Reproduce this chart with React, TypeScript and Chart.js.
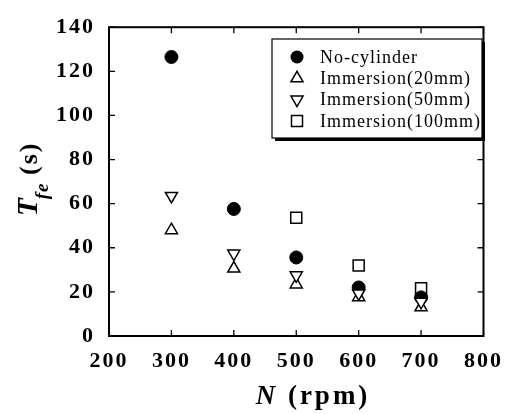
import React, { useEffect, useRef } from "react";
import { Chart, registerables } from "chart.js";

Chart.register(...registerables);

// ---- data ----
const rpmAll = [300, 400, 500, 600, 700];
const noCylinder = [126.5, 57.6, 35.6, 22, 17.5];
const immersion20 = [48, 30.6, 23.4, 17.6, 13];
const immersion50 = [63.5, 37.4, 27.5, 19.3, 15.5];
const rpm100 = [500, 600, 700];
const immersion100 = [53.6, 32, 21.6];

const seriesLabels = ["No-cylinder", "Immersion(20mm)", "Immersion(50mm)", "Immersion(100mm)"];
const xTickValues = [200, 300, 400, 500, 600, 700, 800];
const yTickValues = [0, 20, 40, 60, 80, 100, 120, 140];
const xTitleMain = "N";
const xTitleUnit = " (rpm)";
const yTitleMain = "T";
const yTitleSub = "fe";
const yTitleUnit = " (s)";

const SERIF = "'Liberation Serif', 'Times New Roman', serif";

function pts(xs: number[], ys: number[]) {
  return xs.map((x, i) => ({ x, y: ys[i] }));
}

function drawMarker(ctx: CanvasRenderingContext2D, kind: string, x: number, y: number) {
  ctx.save();
  ctx.strokeStyle = "#000";
  ctx.fillStyle = "#000";
  ctx.lineWidth = 1.5;
  ctx.beginPath();
  if (kind === "circle") {
    ctx.arc(x, y, 6.5, 0, Math.PI * 2);
    ctx.fill();
  } else if (kind === "up" || kind === "down") {
    const r = 7;
    const base = kind === "down" ? Math.PI : 0;
    for (let k = 0; k < 3; k++) {
      const a = (k * 2 * Math.PI) / 3 + base;
      const px = x + Math.sin(a) * r;
      const py = y - Math.cos(a) * r;
      if (k === 0) ctx.moveTo(px, py);
      else ctx.lineTo(px, py);
    }
    ctx.closePath();
    ctx.stroke();
  } else {
    ctx.rect(x - 5.5, y - 5.5, 11, 11);
    ctx.stroke();
  }
  ctx.restore();
}

const framePlugin = {
  id: "frameAndTitles",
  beforeDraw(chart: any) {
    (chart.ctx as any).letterSpacing = "2px";
  },
  afterDraw(chart: any) {
    const ctx: CanvasRenderingContext2D = chart.ctx;
    const { left, right, top, bottom } = chart.chartArea;
    const xs = chart.scales.x;
    const ys = chart.scales.y;
    (ctx as any).letterSpacing = "0px";
    ctx.save();
    // frame
    ctx.strokeStyle = "#000";
    ctx.lineWidth = 2;
    ctx.strokeRect(left, top, right - left, bottom - top);
    // inward ticks on all four sides
    const tl = 6;
    ctx.lineWidth = 1.3;
    ctx.beginPath();
    xTickValues.forEach((v) => {
      const px = xs.getPixelForValue(v);
      ctx.moveTo(px, bottom);
      ctx.lineTo(px, bottom - tl);
      ctx.moveTo(px, top);
      ctx.lineTo(px, top + tl);
    });
    yTickValues.forEach((v) => {
      const py = ys.getPixelForValue(v);
      ctx.moveTo(left, py);
      ctx.lineTo(left + tl, py);
      ctx.moveTo(right, py);
      ctx.lineTo(right - tl, py);
    });
    ctx.stroke();

    // legend
    const bx = 272, by = 39, bw = 210, bh = 99;
    ctx.fillStyle = "#000";
    ctx.fillRect(bx + 3, by + 3, bw, bh);
    ctx.fillStyle = "#fff";
    ctx.fillRect(bx, by, bw, bh);
    ctx.lineWidth = 1.2;
    ctx.strokeStyle = "#000";
    ctx.strokeRect(bx, by, bw, bh);
    const kinds = ["circle", "up", "down", "square"];
    ctx.font = `18px ${SERIF}`;
    ctx.textBaseline = "middle";
    ctx.textAlign = "left";
    (ctx as any).letterSpacing = "1px";
    seriesLabels.forEach((lab, i) => {
      const ry = 57 + i * 21.3;
      drawMarker(ctx, kinds[i], 297, ry);
      ctx.fillStyle = "#000";
      ctx.fillText(lab, 320, ry + 1);
    });

    // x title
    ctx.textBaseline = "alphabetic";
    (ctx as any).letterSpacing = "3px";
    ctx.font = `italic bold 27px ${SERIF}`;
    const wN = ctx.measureText(xTitleMain).width;
    ctx.font = `bold 27px ${SERIF}`;
    const wU = ctx.measureText(xTitleUnit).width;
    const cx = 313;
    const sx = cx - (wN + wU) / 2;
    ctx.font = `italic bold 27px ${SERIF}`;
    ctx.fillText(xTitleMain, sx, 404);
    ctx.font = `bold 27px ${SERIF}`;
    ctx.fillText(xTitleUnit, sx + wN, 404);

    // y title (rotated)
    ctx.save();
    ctx.translate(37, 216);
    ctx.rotate(-Math.PI / 2);
    (ctx as any).letterSpacing = "1px";
    ctx.font = `italic bold 29px ${SERIF}`;
    ctx.fillText(yTitleMain, 0, 0);
    let off = ctx.measureText(yTitleMain).width - 2;
    ctx.font = `italic bold 19px ${SERIF}`;
    ctx.fillText(yTitleSub, off, 11);
    off += ctx.measureText(yTitleSub).width - 1;
    (ctx as any).letterSpacing = "2px";
    ctx.font = `bold 26px ${SERIF}`;
    ctx.fillText(yTitleUnit, off, 0);
    ctx.restore();

    ctx.restore();
  },
};

export default function App() {
  const ref = useRef<HTMLCanvasElement | null>(null);
  useEffect(() => {
    document.body.style.margin = "0";
    const canvas = ref.current!;
    const tickFont = { family: SERIF, size: 22, weight: "bold" as const };
    const hollow = "#fff";
    const chart = new Chart(canvas, {
      type: "scatter",
      data: {
        datasets: [
          {
            label: seriesLabels[0],
            data: pts(rpmAll, noCylinder),
            pointStyle: "circle",
            pointRadius: 6.5,
            backgroundColor: "#000",
            borderColor: "#000",
            borderWidth: 1,
            order: 3,
          },
          {
            label: seriesLabels[1],
            data: pts(rpmAll, immersion20),
            pointStyle: "triangle",
            pointRadius: 7,
            backgroundColor: hollow,
            borderColor: "#000",
            borderWidth: 1.5,
            order: 2,
          },
          {
            label: seriesLabels[2],
            data: pts(rpmAll, immersion50),
            pointStyle: "triangle",
            rotation: 180,
            pointRadius: 7,
            backgroundColor: hollow,
            borderColor: "#000",
            borderWidth: 1.5,
            order: 1,
          },
          {
            label: seriesLabels[3],
            data: pts(rpm100, immersion100),
            pointStyle: "rect",
            pointRadius: 7.8,
            backgroundColor: hollow,
            borderColor: "#000",
            borderWidth: 1.5,
            order: 4,
          },
        ],
      },
      options: {
        responsive: false,
        animation: false,
        layout: { padding: { top: 25, right: 17, left: 0, bottom: 0 } },
        plugins: { legend: { display: false }, tooltip: { enabled: false } },
        scales: {
          x: {
            type: "linear",
            min: 200,
            max: 800,
            grid: { display: false, drawTicks: false },
            border: { display: false },
            afterBuildTicks: (s: any) => {
              s.ticks = xTickValues.map((v) => ({ value: v }));
            },
            afterFit: (s: any) => {
              s.height = 78;
            },
            ticks: { color: "#000", font: tickFont, padding: 12, maxRotation: 0, autoSkip: false },
          },
          y: {
            type: "linear",
            min: 0,
            max: 140,
            grid: { display: false, drawTicks: false },
            border: { display: false },
            afterBuildTicks: (s: any) => {
              s.ticks = yTickValues.map((v) => ({ value: v }));
            },
            afterFit: (s: any) => {
              s.width = 109;
            },
            ticks: { color: "#000", font: tickFont, padding: 14, autoSkip: false },
          },
        },
      },
      plugins: [framePlugin],
    });
    return () => chart.destroy();
  }, []);
  return (
    <div style={{ width: 512, height: 414, background: "#fff" }}>
      <canvas ref={ref} width={512} height={414} style={{ display: "block" }} />
    </div>
  );
}
